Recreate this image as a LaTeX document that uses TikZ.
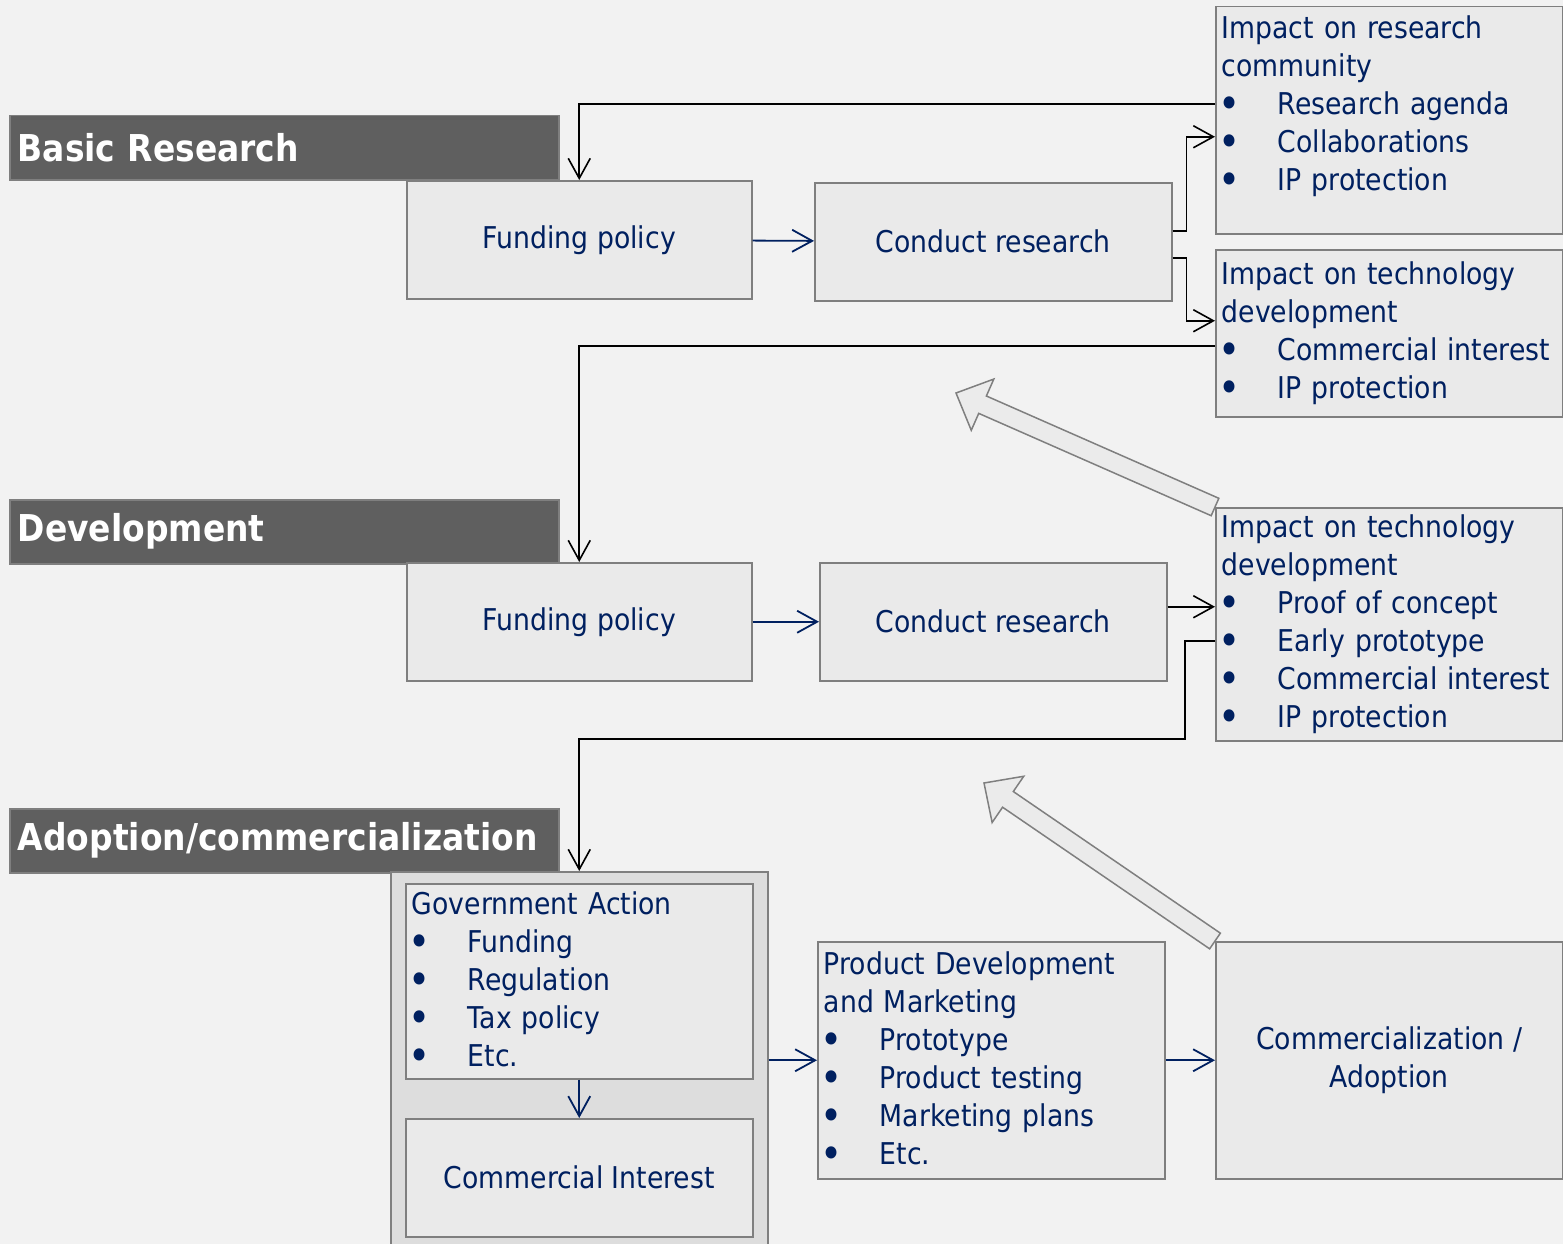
\documentclass[tikz,border=0pt]{standalone}
\usepackage{fontspec}
\setmainfont{DejaVu Sans}[FakeStretch=0.89]
\usepackage{tikz}
\usetikzlibrary{arrows.meta,calc}
\definecolor{navy}{HTML}{002060}
\definecolor{bg}{HTML}{F2F2F2}
\definecolor{cellfill}{HTML}{EAEAEA}
\definecolor{grpfill}{HTML}{DDDDDD}
\definecolor{edge}{HTML}{7F7F7F}
\definecolor{bandfill}{HTML}{5F5F5F}
\definecolor{arrowfill}{HTML}{EBEBEB}
% bullet item inside a box
\newcommand\itm[1]{\makebox[56pt][l]{\hspace{-3pt}\raisebox{-3.5pt}{\fontsize{42}{38}\selectfont\textbullet}}#1}

\begin{document}
\begin{tikzpicture}[x=1pt,y=-1pt,
  cell/.style={draw=edge,fill=cellfill,line width=1.5pt,text=navy,font=\fontsize{30}{38}\selectfont,inner xsep=6pt,inner ysep=0pt},
  plainbox/.style={cell,align=center,anchor=north west},
  listbox/.style={cell,align=left,anchor=north west,text width=335pt},
  band/.style={draw=edge,fill=bandfill,line width=1.5pt,anchor=north west,text width=533pt,inner xsep=8pt,inner ysep=0pt,minimum height=64pt,align=left,text=white,font=\bfseries\fontsize{37}{44}\selectfont},
  link/.style={-{Straight Barb[length=20pt,width=22pt]},line width=1.6pt,black},
  flow/.style={link,navy,line width=1.8pt},
  bigarrow/.style={draw=edge,fill=arrowfill,line width=1.5pt,line join=miter}]
\clip (0,0) rectangle (1563,1244);
\fill[bg] (0,0) rectangle (1563,1244);

% stage headers
\node[band] (hbasic) at (9,115) {Basic Research};
\node[band] (hdev) at (9,499) {Development};
\node[band] (hadopt) at (9,808) {Adoption/commercialization};

% basic research row
\node[plainbox,minimum width=345,minimum height=118] (fund1) at (406,180) {Funding policy};
\node[plainbox,minimum width=357,minimum height=118] (cond1) at (814,182) {Conduct research};
\node[listbox,minimum height=227] (imp1) at (1215,6) {Impact on research\\community\\\itm{Research agenda}\\\itm{Collaborations}\\\itm{IP protection}\\[-4pt]\mbox{}};
\node[listbox,minimum height=167] (imp2) at (1215,249) {Impact on technology\\development\\\itm{Commercial interest}\\\itm{IP protection}};

% development row
\node[plainbox,minimum width=345,minimum height=118] (fund2) at (406,562) {Funding policy};
\node[plainbox,minimum width=347,minimum height=118] (cond2) at (819,562) {Conduct research};
\node[listbox,minimum height=233] (imp3) at (1215,507) {Impact on technology\\development\\\itm{Proof of concept}\\\itm{Early prototype}\\\itm{Commercial interest}\\\itm{IP protection}};

% adoption row
\node[draw=edge,fill=grpfill,line width=1.5pt,anchor=north west,minimum width=377,minimum height=400] (grp) at (390,871) {};
\node[listbox,minimum height=195] (gov) at (405,883) {Government Action\\\itm{Funding}\\\itm{Regulation}\\\itm{Tax policy}\\\itm{Etc.}};
\node[plainbox,minimum width=347,minimum height=118] (comm) at (405,1118) {Commercial Interest};
\node[listbox,minimum height=237] (prod) at (817,941) {Product Development\\and Marketing\\\itm{Prototype}\\\itm{Product testing}\\\itm{Marketing plans}\\\itm{Etc.}};
\node[plainbox,minimum width=347,minimum height=237] (adoptbox) at (1215,941) {Commercialization /\\Adoption};

% feedback arrows
\coordinate (tipA) at (956,393);
\coordinate (tipB) at (984,783);
\foreach \s/\e in {imp3.north west/tipA,adoptbox.north west/tipB}{
  \coordinate (hb) at ($(\e)!29pt!(\s)$);
  \draw[bigarrow] ($(\s)!9.5pt!90:(\e)$) -- ($(hb)!9.5pt!90:(\e)$) -- ($(hb)!28pt!90:(\e)$) -- (\e)
    -- ($(hb)!28pt!-90:(\e)$) -- ($(hb)!9.5pt!-90:(\e)$) -- ($(\s)!9.5pt!-90:(\e)$) -- cycle;
}

% connectors
\draw[flow] (fund1) -- (cond1);
\draw[link] ([yshift=11pt]cond1.east) -- ++(14,0) |- ([yshift=-16.5pt]imp1.west);
\draw[link] ([yshift=-16pt]cond1.east) -- ++(14,0) |- ([yshift=12.5pt]imp2.west);
\draw[link] ([yshift=16.5pt]imp1.west) -| (fund1.north);
\draw[link] ([yshift=-12.5pt]imp2.west) -| (fund2.north);
\draw[flow] (fund2) -- (cond2);
\draw[link] ([yshift=15pt]cond2.east) -- ([yshift=15pt]cond2.east -| imp3.west);
\draw[link] ([yshift=-16.5pt]imp3.west) -- ++(-30,0) -- ++(0,98) -| (grp.north);
\draw[flow] (gov) -- (comm);
\draw[flow] (prod.west -| grp.east) -- (prod.west);
\draw[flow] (prod) -- (adoptbox);
\end{tikzpicture}
\end{document}
